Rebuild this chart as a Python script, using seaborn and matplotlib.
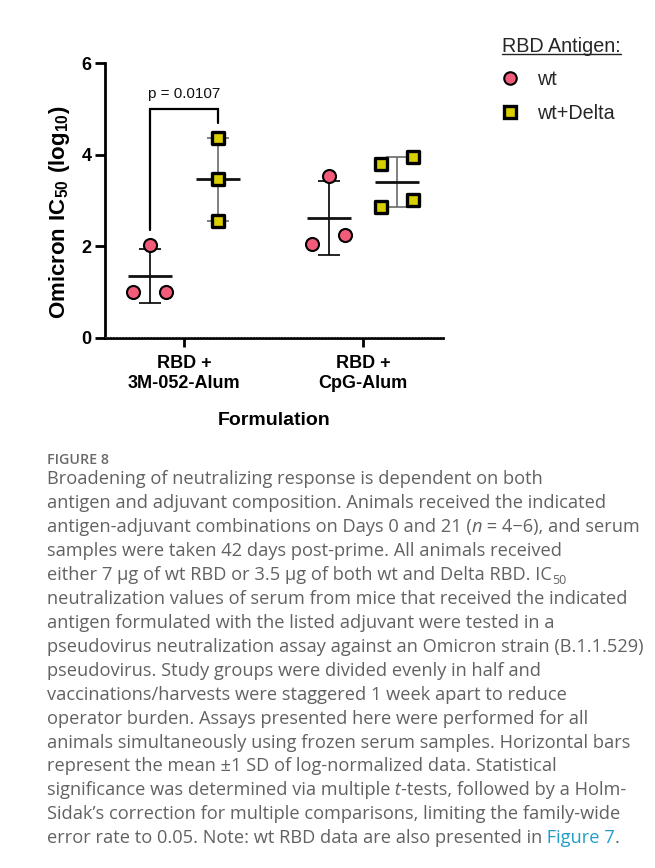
import numpy as np
import pandas as pd
import matplotlib
matplotlib.use("Agg")
import matplotlib.pyplot as plt
import matplotlib.transforms as mtransforms
from matplotlib.text import Annotation
from matplotlib.lines import Line2D
import seaborn as sns

# ---------------- data ----------------
formulations = ["RBD +\n3M-052-Alum", "RBD +\nCpG-Alum"]
antigens = ["wt", "wt+Delta"]
wt_3m = [1.00, 2.03, 1.00]
delta_3m = [4.37, 3.46, 2.55]
wt_cpg = [2.05, 3.54, 2.25]
delta_cpg = [3.79, 3.95, 2.85, 3.01]
p_label = "p = 0.0107"
yticks = [0, 2, 4, 6]

caption_title = "FIGURE 8"
caption_lines = [
    [("Broadening of neutralizing response is dependent on both", "n")],
    [("antigen and adjuvant composition. Animals received the indicated", "n")],
    [("antigen-adjuvant combinations on Days 0 and 21 (", "n"), ("n", "i"), (" = 4\u22126), and serum", "n")],
    [("samples were taken 42 days post-prime. All animals received", "n")],
    [("either 7 \u03bcg of wt RBD or 3.5 \u03bcg of both wt and Delta RBD. IC", "n"), ("50", "sub")],
    [("neutralization values of serum from mice that received the indicated", "n")],
    [("antigen formulated with the listed adjuvant were tested in a", "n")],
    [("pseudovirus neutralization assay against an Omicron strain (B.1.1.529)", "n")],
    [("pseudovirus. Study groups were divided evenly in half and", "n")],
    [("vaccinations/harvests were staggered 1 week apart to reduce", "n")],
    [("operator burden. Assays presented here were performed for all", "n")],
    [("animals simultaneously using frozen serum samples. Horizontal bars", "n")],
    [("represent the mean \u00b11 SD of log-normalized data. Statistical", "n")],
    [("significance was determined via multiple", "n"), (" t", "i"), ("-tests, followed by a Holm-", "n")],
    [("Sidak\u2019s correction for multiple comparisons, limiting the family-wide", "n")],
    [("error rate to 0.05. Note: wt RBD data are also presented in", "n"), (" Figure 7", "link"), (".", "n")],
]

rows = []
for fi, (wv, dv) in enumerate([(wt_3m, delta_3m), (wt_cpg, delta_cpg)]):
    for v in wv:
        rows.append((fi, "wt", v))
    for v in dv:
        rows.append((fi, "wt+Delta", v))
df = pd.DataFrame(rows, columns=["fi", "antigen", "value"])

# ---------------- style ----------------
W, H = 655, 868
sns.set_theme(style="ticks")
plt.rcParams["font.family"] = ["Liberation Sans", "DejaVu Sans"]

PINK = "#F25C7A"
YELLOW = "#D8CE00"
HUE_OFF = 0.19
SPREAD = 0.184
CLUSTER_GAP = 0.35
CAP = 0.0615
MEANW = 0.123

# symmetric spreading of near-equal points (GraphPad-like scatter)
df["x"] = 0.0
for (fi, ant), sub in df.groupby(["fi", "antigen"]):
    order = sub.sort_values("value", kind="stable")
    clusters = []
    for idx, v in zip(order.index, order["value"]):
        if clusters and v - clusters[-1][-1][1] < CLUSTER_GAP:
            clusters[-1].append((idx, v))
        else:
            clusters.append([(idx, v)])
    sign = -1 if ant == "wt" else 1
    for cl in clusters:
        n = len(cl)
        for k, (idx, v) in enumerate(cl):
            df.loc[idx, "x"] = fi + sign * HUE_OFF + (k - (n - 1) / 2) * SPREAD

fig = plt.figure(figsize=(W / 100, H / 100), dpi=100)
ax = fig.add_axes([105 / W, 1 - 337.7 / H, (443 - 105) / W, (337.7 - 63.3) / H])

# error bars (mean +/- SD)
stats = df.groupby(["fi", "antigen"])["value"].agg(["mean", "std"]).reset_index()
for _, r in stats.iterrows():
    sign = -1 if r["antigen"] == "wt" else 1
    cx = r["fi"] + sign * HUE_OFF
    vc = "black" if r["antigen"] == "wt" else "#6a6a6a"
    m, sd = r["mean"], r["std"]
    ax.vlines(cx, m - sd, m + sd, color=vc, lw=1.2, zorder=2)
    ax.hlines([m - sd, m + sd], cx - CAP, cx + CAP, color=vc, lw=1.2, zorder=2)
    ax.hlines(m, cx - MEANW, cx + MEANW, color="#111111", lw=2.0, zorder=2)

# points
sns.scatterplot(data=df[df.antigen == "wt"], x="x", y="value", marker="o", color=PINK,
                s=88, edgecolor="black", linewidth=1.5, ax=ax, zorder=3, legend=False, clip_on=False)
sns.scatterplot(data=df[df.antigen == "wt+Delta"], x="x", y="value", marker="s", color=YELLOW,
                s=80, edgecolor="black", linewidth=2.4, ax=ax, zorder=3, legend=False, clip_on=False)

# significance bracket
g0 = df[df.fi == 0]
xl = 0 - HUE_OFF
xr = 0 + HUE_OFF
ytop = g0["value"].max() + 0.63
yl = g0[g0.antigen == "wt"]["value"].max() + 0.33
yr = g0[g0.antigen == "wt+Delta"]["value"].max() + 0.32
ax.plot([xl, xl, xr, xr], [yl, ytop, ytop, yr], color="black", lw=1.6, zorder=2,
        solid_joinstyle="miter", clip_on=False)
ax.text((xl + xr) / 2, ytop + 0.33, p_label, ha="center", va="center", fontsize=11, color="#111")

# axes
ax.set_xlim(-0.441, 1.447)
ax.set_ylim(0, 6)
ax.set_yticks(yticks)
ax.set_yticklabels([str(t) for t in yticks], fontweight="bold", fontsize=13)
ax.set_xticks([0, 1])
ax.set_xticklabels(formulations, fontweight="bold", fontsize=13, linespacing=1.25)
sns.despine(ax=ax)
for s in ["left", "bottom"]:
    ax.spines[s].set_linewidth(2.0)
    ax.spines[s].set_color("black")
ax.tick_params(axis="y", length=7.5, width=2.0, pad=2, colors="black")
ax.tick_params(axis="x", length=6.5, width=2.0, pad=6, colors="black")
ax.set_ylabel(r"$\mathdefault{Omicron\ IC_{50}\ (log_{10})}$", fontsize=16, fontweight="bold",
              va="center", color="black")
ax.yaxis.set_label_coords((60 - 105) / 338, (337.7 - 212) / 274.4)
ax.set_xlabel("Formulation", fontsize=14, fontweight="bold", va="center", color="black")
ax.xaxis.set_label_coords(0.5, (337.7 - 420) / 274.4)
# dotted overlay on the baseline axis
off = mtransforms.offset_copy(ax.get_yaxis_transform(), fig=fig, x=0, y=1.2, units="dots")
ax.plot([0, 1], [0, 0], transform=off, color="#555555", lw=0.8, ls=(0, (1.2, 1.6)),
        clip_on=False, zorder=5)
ax.set_facecolor("white")

# legend
handles = [
    Line2D([], [], ls="", marker="o", markerfacecolor=PINK, markeredgecolor="black",
           markersize=9, markeredgewidth=1.5),
    Line2D([], [], ls="", marker="s", markerfacecolor=YELLOW, markeredgecolor="black",
           markersize=8.5, markeredgewidth=2.4),
]
leg = fig.legend(handles, antigens, loc="upper left", bbox_to_anchor=(502 / W, 1 - 37 / H),
                 frameon=False, title="RBD Antigen:", title_fontsize=14.2, fontsize=14.2,
                 alignment="left", handletextpad=1.0, labelspacing=0.75, handlelength=0.8,
                 borderpad=0, borderaxespad=0)
leg._legend_box.sep = 10

# caption
CF = ["Open Sans", "DejaVu Sans"]
CC = "#626262"
renderer = fig.canvas.get_renderer()
probe = fig.text(0, 0, caption_lines[0][0][0], fontsize=10, family=CF)
wprobe = probe.get_window_extent(renderer).width
probe.remove()
FS = 10 * 496 / wprobe

fig.text(47 / W, 1 - 464.5 / H, caption_title, fontsize=FS * 0.78, family=CF,
         fontweight="semibold", color="#6a6a6a", va="baseline")

for i, pieces in enumerate(caption_lines):
    yb = 1 - (484.3 + i * 23.93) / H
    txt, kind = pieces[0]
    prev = fig.text(47 / W, yb, txt, fontsize=FS, family=CF, color=CC, va="baseline")
    for txt, kind in pieces[1:]:
        kw = dict(fontsize=FS, family=CF, color=CC)
        dy = 0
        if kind == "i":
            kw["style"] = "italic"
        elif kind == "link":
            kw["color"] = "#1f9fc6"
        elif kind == "sub":
            kw["fontsize"] = FS * 0.68
            dy = -2.2
        a = Annotation(txt, xy=(1, 0), xycoords=prev, xytext=(0, dy), textcoords="offset points",
                       ha="left", va="bottom", **kw)
        fig.add_artist(a)
        prev = a

# underline for legend title
fig.canvas.draw()
tb = leg.get_title().get_window_extent(renderer)
uy = (tb.y0 + 2.5) / H
fig.add_artist(Line2D([tb.x0 / W, tb.x1 / W], [uy, uy], transform=fig.transFigure,
                      color="#222", lw=1.0))

fig.savefig("out.png", dpi=100, facecolor="white")
